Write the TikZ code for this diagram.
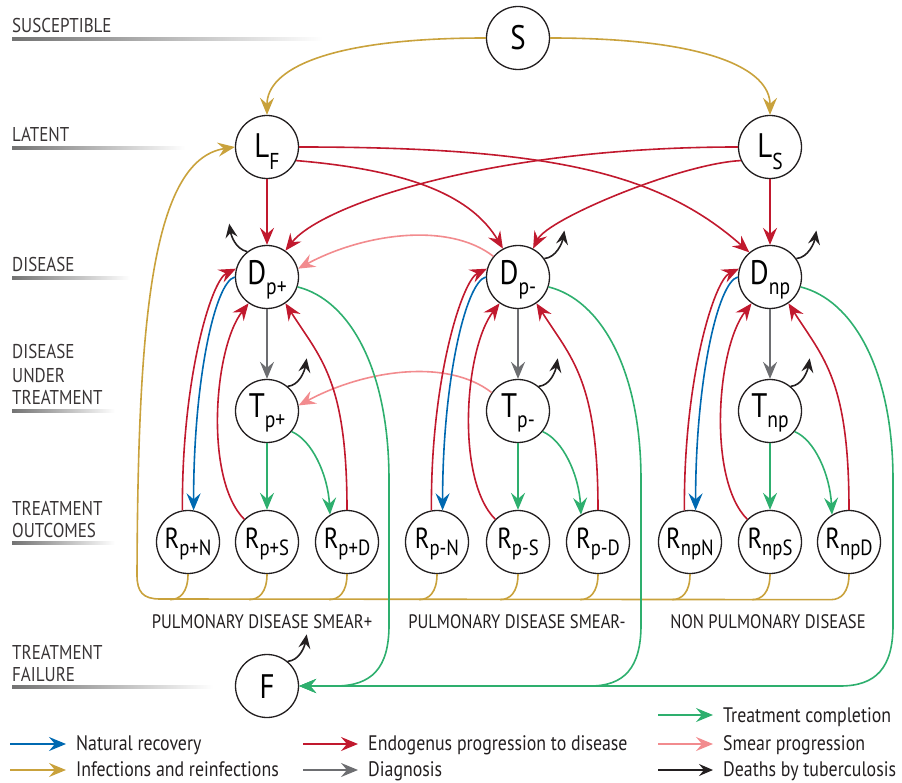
\documentclass[tikz,border=0pt]{standalone}
\usepackage{fontspec}
\setmainfont{PT Sans}[FakeStretch=0.85]
\usetikzlibrary{arrows.meta}
\definecolor{cred}{HTML}{C1192E}
\definecolor{cblue}{HTML}{0069B1}
\definecolor{cgold}{HTML}{C9A23C}
\definecolor{cgray}{HTML}{6D6E71}
\definecolor{cgreen}{HTML}{2EAF6E}
\definecolor{cpink}{HTML}{F28B8E}
\definecolor{cblack}{HTML}{231F20}
\newcommand\nd[6]{\makebox[0pt]{\raisebox{-#1pt}[0pt][0pt]{\fontsize{#2}{#2}\selectfont #3\raisebox{-#5pt}{\fontsize{#6}{#6}\selectfont #4}}}}
\newcommand\tbcolumn[5]{%
 \draw[diag,->] (#1) -- (#2);
 \draw[comp,->] (#2) -- (#4);
 \draw[comp,->] (#2.-40) .. controls +(20,8) and +(-2,-40) .. (#5.122);
 \draw[endo,->] (#3.100) .. controls +(-1,-130) and +(-25,12) .. (#1.165);
 \draw[nat,->] (#1.180) .. controls +(-20,5) and +(0,-130) .. (#3.80);
 \draw[endo,->] (#4.135) .. controls +(-40,-40) and +(-35,45) .. (#1.235);
 \draw[endo,->] (#5.90) .. controls +(0,-130) and +(35,55) .. (#1.-55);
}
\begin{document}
\begin{tikzpicture}[x=1pt,y=-1pt,
  >={Stealth[length=17pt,width=14pt,inset=6pt]},
  st/.style={circle,draw=cblack,line width=1.3pt,minimum size=63pt,inner sep=0pt,fill=white},
  conn/.style={line width=1.6pt},
  endo/.style={conn,cred},
  nat/.style={conn,cblue},
  inf/.style={conn,cgold},
  diag/.style={conn,cgray},
  comp/.style={conn,cgreen},
  smear/.style={conn,cpink},
  death/.style={conn,cblack,>={Stealth[length=14pt,width=12pt,inset=5pt]}},
  lab/.style={font=\fontsize{20}{22}\selectfont,text=cblack!90,inner sep=0pt},
  cat/.style={font=\fontsize{19.5}{22}\selectfont,text=cblack,inner sep=0pt},
  leg/.style={font=\fontsize{21}{22}\selectfont,text=cblack,inner sep=0pt},
  bar/.style={left color=black!55,right color=white}
]
\useasboundingbox (0,0) rectangle (902,783);

% left labels
\node[lab,anchor=base west] (l1) at (12,33) {SUSCEPTIBLE};
\shade[bar] (12,37.5) rectangle (323,40.5);
\node[lab,anchor=base west] (l2) at (12,142) {LATENT};
\shade[bar] (12,146.5) rectangle (185,149.5);
\node[lab,anchor=base west] (l3) at (12,272) {DISEASE};
\shade[bar] (12,276.5) rectangle (130,279.5);
\node[lab,anchor=base west] (l4a) at (12,359) {DISEASE};
\node[lab,anchor=base west] (l4b) at (12,382) {UNDER};
\node[lab,anchor=base west] (l4c) at (12,404) {TREATMENT};
\shade[bar] (12,409.5) rectangle (115,412.5);
\node[lab,anchor=base west] (l5a) at (12,515) {TREATMENT};
\node[lab,anchor=base west] (l5b) at (12,537) {OUTCOMES};
\shade[bar] (12,541.5) rectangle (115,544.5);
\node[lab,anchor=base west] (l6a) at (12,659) {TREATMENT};
\node[lab,anchor=base west] (l6b) at (12,681) {FAILURE};
\shade[bar] (12,685.5) rectangle (213,688.5);

% nodes
\node[st] (S) at (518,38) {\nd{12}{34}{S}{}{0}{22}};
\node[st] (LF) at (267,147) {\nd{11}{34}{L}{F}{12}{23}};
\node[st] (LS) at (770,147) {\nd{11}{34}{L}{S}{12}{23}};
\node[st] (Dp) at (267,277) {\nd{8}{34}{D}{p+}{10}{23}};
\node[st] (Dm) at (518,277) {\nd{8}{34}{D}{p-}{10}{23}};
\node[st] (Dn) at (770,277) {\nd{8}{34}{D}{np}{10}{23}};
\node[st] (Tp) at (267,411) {\nd{6}{34}{T}{p+}{10}{23}};
\node[st] (Tm) at (518,411) {\nd{6}{34}{T}{p-}{10}{23}};
\node[st] (Tn) at (770,411) {\nd{6}{34}{T}{np}{10}{23}};
\node[st] (RpN) at (188,542) {\nd{6}{29}{R}{p+N}{7}{22}};
\node[st] (RpS) at (267,542) {\nd{6}{29}{R}{p+S}{7}{22}};
\node[st] (RpD) at (347,542) {\nd{6}{29}{R}{p+D}{7}{22}};
\node[st] (RmN) at (437,542) {\nd{6}{29}{R}{p-N}{7}{22}};
\node[st] (RmS) at (518,542) {\nd{6}{29}{R}{p-S}{7}{22}};
\node[st] (RmD) at (598,542) {\nd{6}{29}{R}{p-D}{7}{22}};
\node[st] (RnN) at (690,542) {\nd{6}{29}{R}{npN}{7}{22}};
\node[st] (RnS) at (770,542) {\nd{6}{29}{R}{npS}{7}{22}};
\node[st] (RnD) at (849,542) {\nd{6}{29}{R}{npD}{7}{22}};
\node[st] (F) at (267,686) {\nd{12}{34}{F}{}{0}{22}};

% infections
\draw[inf,->] (S.west) .. controls +(-160,0) and +(0,-45) .. (LF.north);
\draw[inf,->] (S.east) .. controls +(160,0) and +(0,-45) .. (LS.north);
\draw[inf,->] (RnD.south) .. controls +(0,18) and +(10,0) .. ++(-18,25.5) -- (160,599)
   .. controls (143,599) and (137,592) .. (137,575)
   .. controls (138,330) and (150,160) .. (LF.west);
\foreach \r in {RpN,RpS,RpD,RmN,RmS,RmD,RnN,RnS}
  \draw[inf] (\r.south) .. controls +(0,18) and +(10,0) .. ++(-18,25.5);

% latent to disease
\draw[endo,->] (LF) -- (Dp);
\draw[endo,->] (LS) -- (Dn);
\draw[endo,->] (LF.east) .. controls +(250,0) and +(-90,-80) .. (Dn.130);
\draw[endo,->] (LF.-25) .. controls +(120,10) and +(-30,-50) .. (Dm.118);
\draw[endo,->] (LS.west) .. controls +(-250,0) and +(35,-45) .. (Dp.55);
\draw[endo,->] (LS.205) .. controls +(-60,3) and +(15,-30) .. (Dm.62);

% smear progression
\draw[smear,->] (Dm.140) .. controls +(-45,-35) and +(65,-35) .. (Dp.15);
\draw[smear,->] (Tm.145) .. controls +(-45,-35) and +(65,-35) .. (Tp.10);

% columns
\tbcolumn{Dp}{Tp}{RpN}{RpS}{RpD}
\tbcolumn{Dm}{Tm}{RmN}{RmS}{RmD}
\tbcolumn{Dn}{Tn}{RnN}{RnS}{RnD}

% treatment failure
\draw[comp,->] (Dp.-18) .. controls (350,300) and (389,370) .. (389,480) -- (389,625)
   .. controls (389,668) and (372,686) .. (335,686) -- (F.east);
\draw[comp,->] (Dm.-18) .. controls (601,300) and (641,370) .. (641,480) -- (641,625)
   .. controls (641,668) and (624,686) .. (590,686) -- (F.east);
\draw[comp,->] (Dn.-18) .. controls (853,300) and (893,370) .. (893,480) -- (893,625)
   .. controls (893,668) and (876,686) .. (840,686) -- (F.east);

% deaths
\draw[death,->] (Dp.128) .. controls +(-12,-3) and +(2,12) .. ++(-18,-28);
\draw[death,->] (Dm.35) .. controls +(12,-1) and +(-2,12) .. ++(20,-28);
\draw[death,->] (Dn.35) .. controls +(12,-1) and +(-2,12) .. ++(20,-28);
\draw[death,->] (Tp.50) .. controls +(12,-1) and +(-2,12) .. ++(19,-28);
\draw[death,->] (Tm.50) .. controls +(12,-1) and +(-2,12) .. ++(19,-28);
\draw[death,->] (Tn.50) .. controls +(12,-1) and +(-2,12) .. ++(19,-28);
\draw[death,->] (F.50) .. controls +(12,-1) and +(-2,12) .. ++(19,-27);

% category labels
\node[cat,anchor=base] (c1) at (262,628) {PULMONARY DISEASE SMEAR+};
\node[cat,anchor=base] (c2) at (517,628) {PULMONARY DISEASE SMEAR-};
\node[cat,anchor=base] (c3) at (768,628) {NON PULMONARY DISEASE};

% legend
\node[leg,anchor=base west] (g1) at (76,750) {Natural recovery};
\node[leg,anchor=base west] (g2) at (76,776) {Infections and reinfections};
\node[leg,anchor=base west] (g3) at (368,750) {Endogenus progression to disease};
\node[leg,anchor=base west] (g4) at (368,776) {Diagnosis};
\node[leg,anchor=base west] (g5) at (723,722) {Treatment completion};
\node[leg,anchor=base west] (g6) at (723,750) {Smear progression};
\node[leg,anchor=base west] (g7) at (723,776) {Deaths by tuberculosis};
\draw[nat,->] ([xshift=-66pt,yshift=6pt]g1.base west) -- ([xshift=-10pt,yshift=6pt]g1.base west);
\draw[inf,->] ([xshift=-66pt,yshift=6pt]g2.base west) -- ([xshift=-10pt,yshift=6pt]g2.base west);
\draw[endo,->] ([xshift=-65pt,yshift=6pt]g3.base west) -- ([xshift=-10pt,yshift=6pt]g3.base west);
\draw[diag,->] ([xshift=-65pt,yshift=6pt]g4.base west) -- ([xshift=-10pt,yshift=6pt]g4.base west);
\draw[comp,->] ([xshift=-65pt,yshift=7pt]g5.base west) -- ([xshift=-10pt,yshift=7pt]g5.base west);
\draw[smear,->] ([xshift=-65pt,yshift=6pt]g6.base west) -- ([xshift=-10pt,yshift=6pt]g6.base west);
\draw[death,->] ([xshift=-65pt,yshift=6pt]g7.base west) -- ([xshift=-10pt,yshift=6pt]g7.base west);
\end{tikzpicture}
\end{document}
